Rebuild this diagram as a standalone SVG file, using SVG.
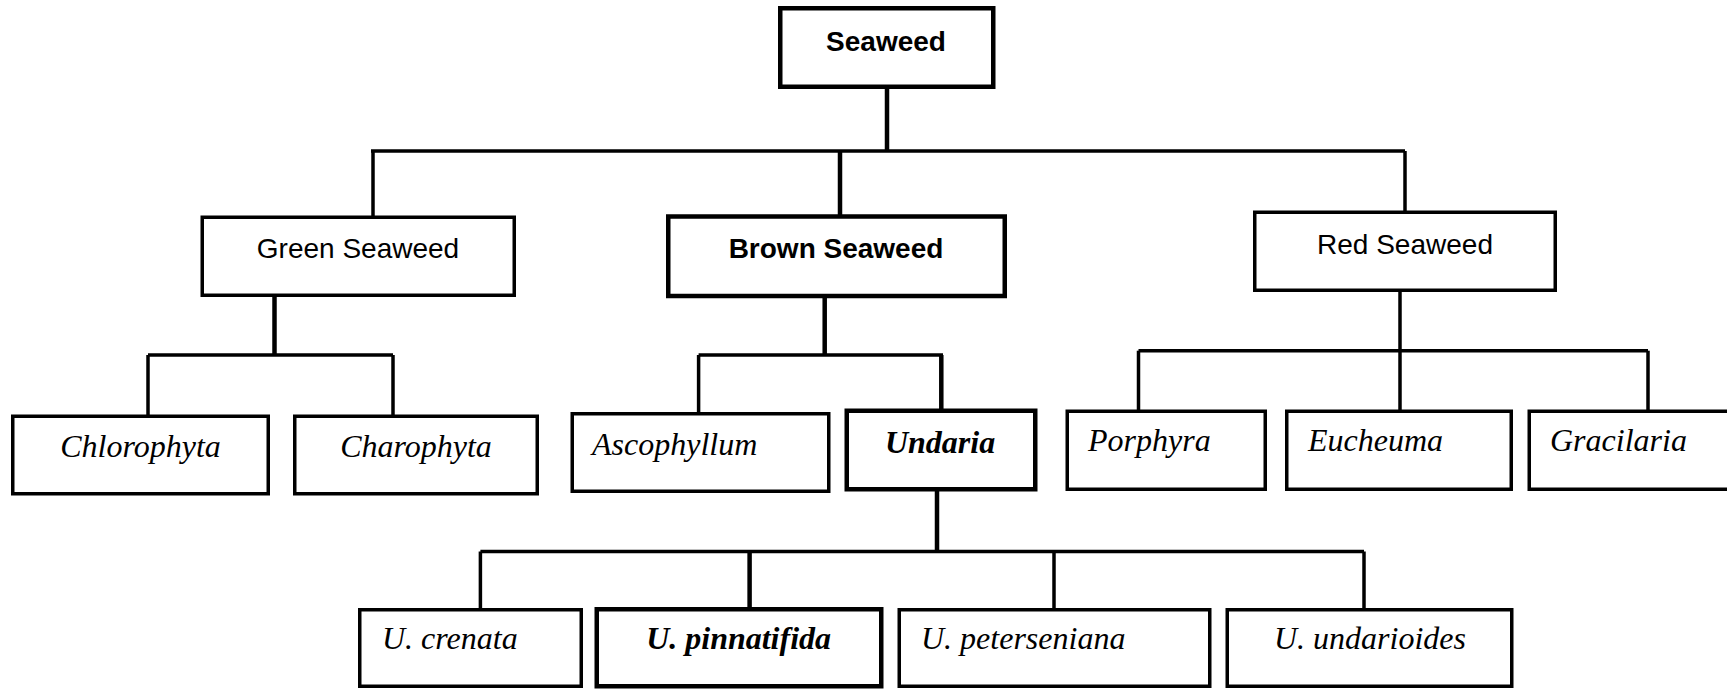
<svg xmlns="http://www.w3.org/2000/svg" width="1727" height="689" viewBox="0 0 1727 689">
<style>
.box{fill:#fff;stroke:#000;stroke-width:3.5}
.thick{stroke-width:4.5}
.sans{font-family:"Liberation Sans",Arial,sans-serif;font-size:28px;fill:#000}
.b{font-weight:bold}
.ser{font-family:"Liberation Serif","Times New Roman",serif;font-style:italic;font-size:32px;fill:#000}
.c{text-anchor:middle}
.ln{stroke:#000;stroke-width:3.5;fill:none}
.lt{stroke:#000;stroke-width:4.5;fill:none}
</style>
<rect width="1727" height="689" fill="#fff"/>
<g id="connectors">
<line class="lt" x1="887" y1="88" x2="887" y2="151"/>
<line class="ln" x1="371" y1="151" x2="1405" y2="151"/>
<line class="ln" x1="373" y1="151" x2="373" y2="216"/>
<line class="lt" x1="840" y1="151" x2="840" y2="215"/>
<line class="ln" x1="1405" y1="151" x2="1405" y2="211"/>
<line class="lt" x1="274.5" y1="296" x2="274.5" y2="355"/>
<line class="ln" x1="148" y1="355" x2="393" y2="355"/>
<line class="ln" x1="148" y1="355" x2="148" y2="415"/>
<line class="ln" x1="393" y1="355" x2="393" y2="415"/>
<line class="lt" x1="824.7" y1="297" x2="824.7" y2="355"/>
<line class="ln" x1="698.6" y1="355" x2="943" y2="355"/>
<line class="ln" x1="698.6" y1="355" x2="698.6" y2="413"/>
<line class="lt" x1="941.3" y1="355" x2="941.3" y2="409"/>
<line class="ln" x1="1400" y1="291" x2="1400" y2="351"/>
<line class="ln" x1="1138.5" y1="350.7" x2="1648" y2="350.7"/>
<line class="ln" x1="1138.5" y1="350.7" x2="1138.5" y2="410"/>
<line class="ln" x1="1400" y1="350.7" x2="1400" y2="410"/>
<line class="ln" x1="1648" y1="350.7" x2="1648" y2="410"/>
<line class="lt" x1="937" y1="490" x2="937" y2="551.5"/>
<line class="ln" x1="480.4" y1="551.5" x2="1364" y2="551.5"/>
<line class="ln" x1="480.4" y1="551.5" x2="480.4" y2="609"/>
<line class="lt" x1="749.6" y1="551.5" x2="749.6" y2="608"/>
<line class="ln" x1="1054" y1="551.5" x2="1054" y2="609"/>
<line class="ln" x1="1364" y1="551.5" x2="1364" y2="609"/>
</g>
<g id="seaweed"><rect class="box thick" x="780.25" y="8.25" width="213" height="78.5"/><text class="sans b c" x="886" y="51">Seaweed</text></g>
<g id="green"><rect class="box" x="202.25" y="217.25" width="312" height="78"/><text class="sans c" x="358" y="258">Green Seaweed</text></g>
<g id="brown"><rect class="box thick" x="668.25" y="216.5" width="336.5" height="79.5"/><text class="sans b c" x="836" y="258">Brown Seaweed</text></g>
<g id="red"><rect class="box" x="1254.75" y="212.25" width="300.5" height="78"/><text class="sans c" x="1405" y="254">Red Seaweed</text></g>
<g id="chlorophyta"><rect class="box" x="12.75" y="416.25" width="255.5" height="77.5"/><text class="ser c" x="140.5" y="457">Chlorophyta</text></g>
<g id="charophyta"><rect class="box" x="294.75" y="416.25" width="242.5" height="77.5"/><text class="ser c" x="416" y="457">Charophyta</text></g>
<g id="ascophyllum"><rect class="box" x="572.25" y="413.75" width="256.5" height="77.5"/><text class="ser" x="592" y="455">Ascophyllum</text></g>
<g id="undaria"><rect class="box thick" x="846.75" y="410.75" width="188.5" height="78.5"/><text class="ser b c" x="940" y="452.5">Undaria</text></g>
<g id="porphyra"><rect class="box" x="1067.25" y="411.25" width="198" height="78"/><text class="ser" x="1088" y="451">Porphyra</text></g>
<g id="eucheuma"><rect class="box" x="1286.75" y="411.25" width="224.5" height="78"/><text class="ser" x="1308" y="451">Eucheuma</text></g>
<g id="gracilaria"><rect class="box" x="1529.25" y="411.25" width="210" height="78"/><text class="ser" x="1550" y="451">Gracilaria</text></g>
<g id="u-crenata"><rect class="box" x="359.75" y="609.75" width="221.5" height="76.5"/><text class="ser" x="382" y="649">U. crenata</text></g>
<g id="u-pinnatifida"><rect class="box thick" x="596.75" y="609.25" width="284.5" height="77"/><text class="ser b c" x="738.6" y="649">U. pinnatifida</text></g>
<g id="u-peterseniana"><rect class="box" x="899.25" y="609.75" width="310.5" height="76.5"/><text class="ser" x="921" y="649">U. peterseniana</text></g>
<g id="u-undarioides"><rect class="box" x="1227.25" y="609.75" width="284.5" height="76.5"/><text class="ser c" x="1370" y="649">U. undarioides</text></g>
</svg>
